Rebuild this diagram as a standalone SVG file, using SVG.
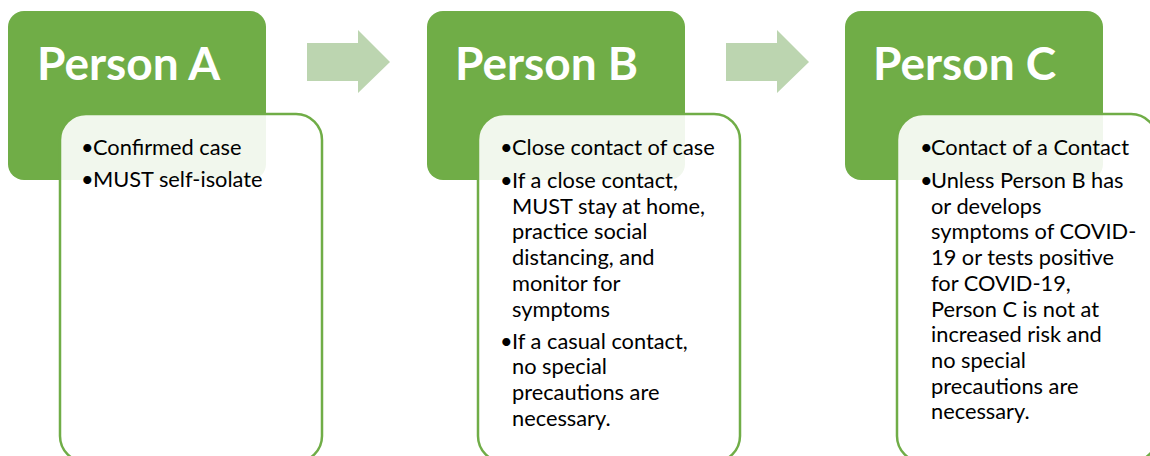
<svg xmlns="http://www.w3.org/2000/svg" width="1150" height="456" viewBox="0 0 1150 456">
<style>
.hdr{fill:#70ad47}
.card{fill:#ffffff;fill-opacity:0.9;stroke:#70ad47;stroke-width:2.5}
.title{font-family:Lato,"Liberation Sans",sans-serif;font-weight:bold;font-size:46px;fill:#ffffff}
.body{font-family:Lato,"Liberation Sans",sans-serif;font-size:21.8px;fill:#000000}
.arrow{fill:#bcd5b0}
</style>
<rect width="1150" height="456" fill="#ffffff"/>
<g id="connectors">
<polygon class="arrow" points="307,43 358,43 358,30 390,62 358,93 358,81 307,81"/>
<polygon class="arrow" points="726,43 777,43 777,30 809,62 777,93 777,81 726,81"/>
</g>
<g id="personA">
<rect class="hdr" x="8" y="11" width="258" height="169" rx="16"/>
<rect class="card" x="60" y="114" width="262" height="348" rx="26"/>
<text class="title" x="37" y="80">Person A</text>
<text class="body">
<tspan x="81" y="155">•</tspan><tspan x="93" y="155">Confirmed case</tspan>
<tspan x="81" y="187">•</tspan><tspan x="93" y="187">MUST self-isolate</tspan>
</text>
</g>
<g id="personB">
<rect class="hdr" x="427" y="11" width="258" height="169" rx="16"/>
<rect class="card" x="478" y="114" width="262" height="348" rx="26"/>
<text class="title" x="455" y="80">Person B</text>
<text class="body">
<tspan x="500" y="155">•</tspan><tspan x="512" y="155">Close contact of case</tspan>
<tspan x="500" y="188">•</tspan><tspan x="512" y="188">If a close contact,</tspan>
<tspan x="512" y="213.7">MUST stay at home,</tspan>
<tspan x="512" y="239.4">practice social</tspan>
<tspan x="512" y="265">distancing, and</tspan>
<tspan x="512" y="290.8">monitor for</tspan>
<tspan x="512" y="316.5">symptoms</tspan>
<tspan x="500" y="348.5">•</tspan><tspan x="512" y="348.5">If a casual contact,</tspan>
<tspan x="512" y="374.2">no special</tspan>
<tspan x="512" y="400">precautions are</tspan>
<tspan x="512" y="425.6">necessary.</tspan>
</text>
</g>
<g id="personC">
<rect class="hdr" x="845" y="11" width="258" height="169" rx="16"/>
<rect class="card" x="897" y="114" width="260" height="348" rx="26"/>
<text class="title" x="873" y="80">Person C</text>
<text class="body">
<tspan x="920" y="155">•</tspan><tspan x="931" y="155">Contact of a Contact</tspan>
<tspan x="920" y="188">•</tspan><tspan x="931" y="188">Unless Person B has</tspan>
<tspan x="931" y="213.7">or develops</tspan>
<tspan x="931" y="239.4">symptoms of COVID-</tspan>
<tspan x="931" y="265">19 or tests positive</tspan>
<tspan x="931" y="290.8">for COVID-19,</tspan>
<tspan x="931" y="316.5">Person C is not at</tspan>
<tspan x="931" y="342">increased risk and</tspan>
<tspan x="931" y="368">no special</tspan>
<tspan x="931" y="393.7">precautions are</tspan>
<tspan x="931" y="419.4">necessary.</tspan>
</text>
</g>
</svg>
